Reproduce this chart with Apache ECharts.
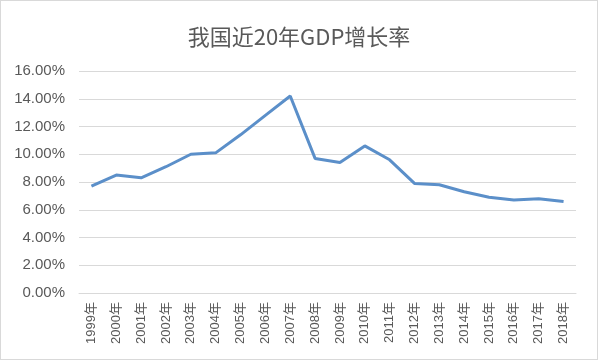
<!DOCTYPE html>
<html><head><meta charset="utf-8">
<script src="https://cdn.jsdelivr.net/npm/echarts@6/dist/echarts.min.js"></script>
<style>html,body{margin:0;padding:0;background:#fff}#c{width:596px;height:358px;border:1px solid #d9d9d9}</style>
</head><body><div id="c"></div>
<script>
const categories = ['1999年','2000年','2001年','2002年','2003年','2004年','2005年','2006年','2007年','2008年','2009年','2010年','2011年','2012年','2013年','2014年','2015年','2016年','2017年','2018年'];
const growth = [7.7, 8.5, 8.3, 9.1, 10.0, 10.1, 11.4, 12.8, 14.2, 9.7, 9.4, 10.6, 9.6, 7.9, 7.8, 7.3, 6.9, 6.7, 6.8, 6.6];
const chart = echarts.init(document.getElementById('c'));
chart.setOption({
  animation:false,
  title:{text:'我国近20年GDP增长率',left:'center',top:20,textStyle:{fontFamily:'Noto Sans CJK SC',fontSize:22,fontWeight:'normal',color:'#595959'}},
  grid:{left:78,right:21,top:70,bottom:66},
  xAxis:{type:'category',data:categories,boundaryGap:true,
    axisLine:{lineStyle:{color:'#d9d9d9',width:1}},axisTick:{show:false},
    axisLabel:{rotate:90,margin:9,fontSize:13,color:'#595959',fontFamily:'Liberation Sans, Noto Sans CJK SC'}},
  yAxis:{type:'value',min:0,max:16,interval:2,
    axisLine:{show:false},axisTick:{show:false},
    splitLine:{lineStyle:{color:'#d9d9d9',width:1}},
    axisLabel:{margin:14,fontSize:15,color:'#595959',fontFamily:'Liberation Sans',formatter:v=>v.toFixed(2)+'%'}},
  series:[{type:'line',data:growth,symbol:'none',lineStyle:{color:'#5b8fc9',width:3},itemStyle:{color:'#5b8fc9'}}]
});
</script></body></html>
